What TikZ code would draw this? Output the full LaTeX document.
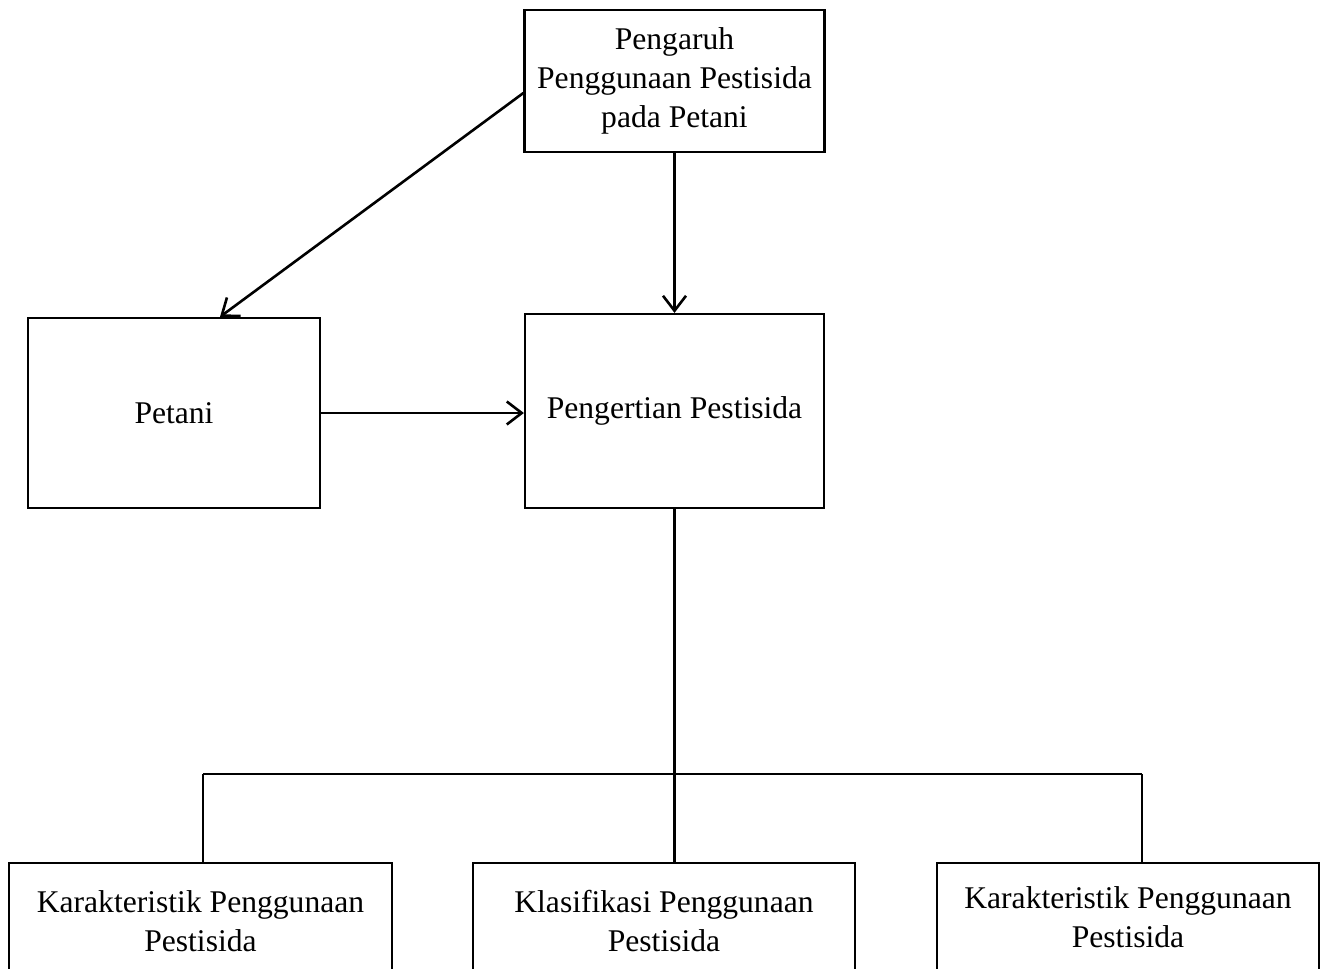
\documentclass[tikz,border=0pt]{standalone}
\usepackage{fontspec}
\setmainfont{Liberation Serif}
\usetikzlibrary{arrows.meta,calc}
\begin{document}
\begin{tikzpicture}[x=0.5pt,y=-0.5pt,
  box/.style={draw,line width=1.1pt,rectangle,inner sep=0pt,align=center,
    font=\fontsize{15.8}{19.5}\selectfont},
  txt/.style={inner sep=0pt,align=center,font=\fontsize{15.8}{19.5}\selectfont},
  conn/.style={line width=1.3pt},
  arr/.style={conn,-{Straight Barb[length=7.5pt,width=11.5pt,line width=1.3pt]}}]
\useasboundingbox (0,0) rectangle (1329,969);
\clip (0,0) rectangle (1329,969);
% main boxes
\node[box,minimum width=150pt,minimum height=71pt] (top) at (674.5,81) {Pengaruh\\Penggunaan Pestisida\\pada Petani};
\node[box,minimum width=146pt,minimum height=95pt] (petani) at (174,413) {Petani};
\node[box,minimum width=149.5pt,minimum height=97pt] (peng) at (674.5,411) {Pengertian Pestisida};
% bottom boxes (cut off at the lower edge)
\node[box,minimum width=191.5pt,minimum height=100pt,anchor=north] (b1) at (200.5,862) {};
\node[box,minimum width=191pt,minimum height=100pt,anchor=north] (b2) at (664,862) {};
\node[box,minimum width=191pt,minimum height=100pt,anchor=north] (b3) at (1128,862) {};
\node[txt] (t1) at ($(b1.north)+(0,59)$) {Karakteristik Penggunaan\\Pestisida};
\node[txt] (t2) at ($(b2.north)+(0,59)$) {Klasifikasi Penggunaan\\Pestisida};
\node[txt] (t3) at ($(b3.north)+(0,55)$) {Karakteristik Penggunaan\\Pestisida};
% arrows
\draw[arr] ($(top.west)+(0,12)$) -- ($(petani.north)+(46,0)$);
\draw[arr] (top.south) -- (top.south |- peng.north);
\draw[arr] (petani.east) -- (petani.east -| peng.west);
% tree lines
\coordinate (hl) at (203,774);
\coordinate (hr) at (1142,774);
\draw[conn] (peng.south) -- (peng.south |- b2.north);
\draw[conn] (hl) -- (hr);
\draw[conn] (hl) -- (hl |- b1.north);
\draw[conn] (hr) -- (hr |- b3.north);
\end{tikzpicture}
\end{document}
